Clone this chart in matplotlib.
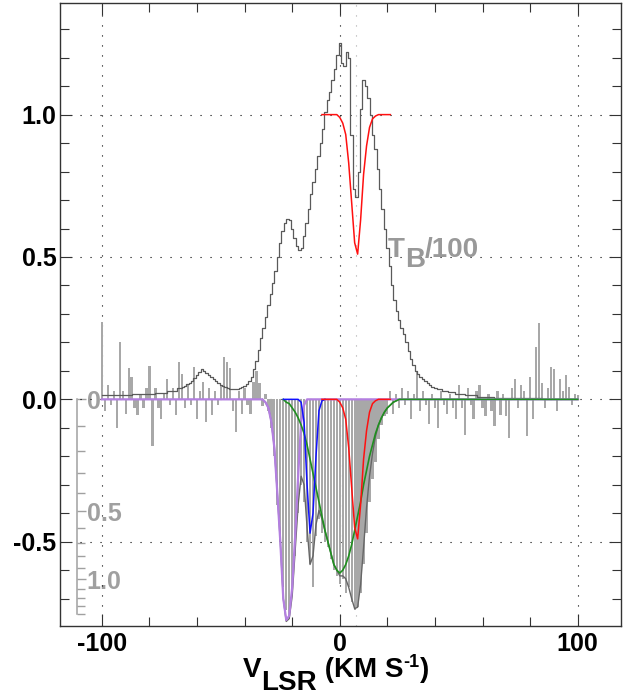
import numpy as np
import matplotlib.pyplot as plt
import matplotlib.ticker as mticker

plt.rcParams['font.family'] = 'Liberation Sans'
plt.rcParams['font.weight'] = 'bold'

# ---------------- data ----------------
# absorption spectrum, one bar per channel (1.25 km/s channels)
chan_v = np.arange(-100, 100.01, 1.25)
absorption = [
    0.27, -0.04, 0.05, -0.02, 0.03, -0.10, 0.20, 0.03,          # -100 .. -91.25
    -0.05, 0.11, 0.08, -0.03, -0.055, 0.02, -0.03, 0.04,        # -90 .. -81.25
    0.117, -0.165, 0.04, -0.03, -0.07, 0.02, 0.07, -0.02,       # -80 .. -71.25
    0.04, -0.055, 0.13, 0.09, -0.03, 0.05, -0.02, 0.115,        # -70 .. -61.25
    -0.07, 0.03, 0.06, -0.08, 0.04, -0.055, 0.03, -0.02,        # -60 .. -51.25
    0.05, 0.15, 0.13, 0.11, -0.04, -0.114, 0.03, -0.05,         # -50 .. -41.25
    0.04, -0.02, -0.05, 0.06, 0.10, 0.058, -0.025, 0.02,        # -40 .. -31.25
    -0.04, -0.10, -0.20, -0.37, -0.50, -0.66, -0.74, -0.76,     # -30 .. -21.25
    -0.68, -0.55, -0.40, -0.30, -0.36, -0.50, -0.58, -0.66,     # -20 .. -11.25
    -0.48, -0.42, -0.47, -0.50, -0.52, -0.56, -0.60, -0.62,     # -10 .. -1.25
    -0.65, -0.63, -0.68, -0.66, -0.71, -0.74, -0.73, -0.68,     # 0 .. 8.75
    -0.58, -0.47, -0.36, -0.28, -0.22, -0.14, -0.09, -0.06,     # 10 .. 18.75
    -0.05, 0.03, -0.05, 0.02, -0.03, 0.04, -0.02, 0.03,         # 20 .. 28.75
    -0.07, 0.02, 0.10, -0.04, 0.03, -0.02, -0.085, 0.02,        # 30 .. 38.75
    -0.03, -0.10, 0.03, -0.02, -0.05, 0.02, -0.03, -0.07,       # 40 .. 48.75
    0.05, -0.03, -0.125, 0.04, -0.02, -0.07, 0.03, 0.05,        # 50 .. 58.75
    -0.03, -0.06, 0.02, -0.04, -0.095, 0.03, -0.055, 0.02,      # 60 .. 68.75
    -0.06, -0.137, 0.04, 0.07, -0.03, 0.05, 0.03, -0.13,        # 70 .. 78.75
    0.077, -0.07, 0.185, 0.267, 0.057, -0.03, 0.04, 0.115,      # 80 .. 88.75
    0.105, -0.04, 0.07, 0.03, 0.085, 0.045, -0.02, 0.02,        # 90 .. 98.75
    0.015,                                                      # 100
]

# emission brightness temperature / 100
em_v = [-100, -95, -90, -85, -80, -75, -70, -67,
        -66, -65, -64, -63, -62, -61, -60, -59, -58, -57, -56, -55, -54, -53,
        -52, -51, -50, -49, -48, -47, -46, -45, -44, -43, -42, -41, -40, -39,
        -38, -37, -36, -35, -34, -33, -32, -31,
        -30, -29, -28, -27, -26, -25, -24, -23, -22, -21, -20, -19, -18, -17,
        -16, -15, -14, -13, -12, -11, -10, -9, -8, -7, -6, -5, -4, -3, -2, -1,
        0, 1, 2, 3, 4, 5, 6, 7, 8, 9, 10, 11, 12, 13, 14, 15, 16, 17, 18, 19,
        20, 21, 22, 23, 24, 25, 26, 27, 28, 29, 30, 31, 32, 33, 34, 35, 36,
        37, 38, 39, 40, 42, 44, 47, 50, 55, 60, 70, 80, 90, 100]
em_tb = [0.015, 0.015, 0.016, 0.018, 0.020, 0.023, 0.030, 0.039,
         0.042, 0.047, 0.053, 0.059, 0.066, 0.075, 0.085, 0.095, 0.105, 0.100,
         0.094, 0.086, 0.078, 0.070, 0.063, 0.056, 0.050, 0.046, 0.042, 0.039,
         0.037, 0.036, 0.035, 0.037, 0.040, 0.044, 0.048, 0.055,
         0.065, 0.080, 0.105, 0.135, 0.175, 0.215, 0.25, 0.29,
         0.33, 0.37, 0.41, 0.45, 0.50, 0.55, 0.59, 0.62, 0.635, 0.63, 0.60,
         0.565, 0.54, 0.525, 0.53, 0.575, 0.62, 0.67, 0.72, 0.765, 0.81, 0.855,
         0.90, 0.95, 1.01, 1.05, 1.08, 1.12, 1.16, 1.21, 1.25, 1.18, 1.17,
         1.22, 1.20, 0.93, 0.74, 0.71, 0.80, 1.02, 1.12, 1.10, 1.06, 1.00,
         0.93, 0.88, 0.81, 0.74, 0.67, 0.60, 0.53, 0.47, 0.40, 0.35, 0.31,
         0.28, 0.25, 0.23, 0.20, 0.17, 0.14, 0.12, 0.10, 0.09, 0.08, 0.072,
         0.065, 0.057, 0.05, 0.045, 0.04, 0.035, 0.03, 0.025, 0.02, 0.015,
         0.01, 0.006, 0.004, 0.002, 0.0]

# gaussian components (as 1 - exp(-tau), drawn negative)
purple_v = [-100, -32.5, -31.25, -30, -28.75, -27.5, -26.25, -25, -23.75, -22.5,
            -21.25, -20, -18.75, -17.5, -16.25, -15, -13.75, 100]
purple_y = [0, 0, -0.01, -0.03, -0.08, -0.17, -0.33, -0.50, -0.70, -0.775,
            -0.76, -0.66, -0.48, -0.27, -0.08, -0.02, 0, 0]

blue_v = [-23.75, -17.5, -16.25, -15, -13.75, -12.5, -11.25, -10, -8.75, -7.5, -6.25]
blue_y = [0, 0, -0.01, -0.08, -0.30, -0.47, -0.40, -0.20, -0.04, -0.005, 0]

red_v = [-7.5, -1.25, 0, 1.25, 2.5, 3.75, 5, 6.25, 7.5, 8.75, 10, 11.25, 12.5,
         13.75, 15, 16.25, 21.25]
red_y = [0, 0, -0.01, -0.03, -0.07, -0.17, -0.31, -0.45, -0.49, -0.37, -0.21,
         -0.11, -0.045, -0.015, -0.005, 0, 0]

green_v = [-23.75, -22.5, -21.25, -20, -18.75, -17.5, -16.25, -15, -13.75, -12.5,
           -11.25, -10, -8.75, -7.5, -6.25, -5, -3.75, -2.5, -1.25, 0, 1.25, 2.5,
           3.75, 5, 6.25, 7.5, 8.75, 10, 11.25, 12.5, 13.75, 15, 16.25, 17.5,
           18.75, 20, 21.25, 22.5, 23.75, 25, 100]
green_y = [0, -0.01, -0.015, -0.03, -0.045, -0.065, -0.09, -0.12, -0.16, -0.21,
           -0.26, -0.31, -0.36, -0.41, -0.46, -0.50, -0.54, -0.58, -0.60, -0.61,
           -0.60, -0.58, -0.55, -0.51, -0.46, -0.41, -0.36, -0.30, -0.25, -0.20,
           -0.16, -0.12, -0.09, -0.065, -0.045, -0.03, -0.02, -0.01, -0.005, 0, 0]

# sum of all components
total_v = [-32.5, -31.25, -30, -28.75, -27.5, -26.25, -25, -23.75, -22.5, -21.25,
           -20, -18.75, -17.5, -16.25, -15, -13.75, -12.5, -11.25, -10, -8.75,
           -7.5, -6.25, -5, -3.75, -2.5, -1.25, 0, 1.25, 2.5, 3.75,
           5, 6.25, 7.5, 8.75, 10, 11.25, 12.5, 13.75, 15, 16.25,
           17.5, 18.75, 20, 21.25, 22.5, 23.75, 25]
total_y = [0, -0.01, -0.03, -0.08, -0.17, -0.33, -0.50, -0.70, -0.78, -0.77,
           -0.69, -0.53, -0.37, -0.27, -0.30, -0.45, -0.58, -0.55, -0.44, -0.39,
           -0.42, -0.46, -0.50, -0.54, -0.58, -0.60, -0.62, -0.62, -0.63, -0.66,
           -0.70, -0.735, -0.73, -0.65, -0.52, -0.38, -0.27, -0.19, -0.13, -0.09,
           -0.065, -0.045, -0.03, -0.02, -0.01, -0.005, 0]

v_mark = 7.0          # light dotted marker line
tau_major = [0, 0.5, 1.0]
tau_minor = [0.1, 0.2, 0.3, 0.4, 0.6, 0.7, 0.8, 0.9, 1.1, 1.2, 1.3, 1.4]

# ---------------- figure ----------------
fig = plt.figure(figsize=(6.32, 6.99), dpi=100)
ax = fig.add_axes([60 / 632, 73 / 699, 561 / 632, 623 / 699])

dots = (0, (1, 8))
ax.grid(True, which='major', color='k', linestyle=dots, linewidth=0.8)
ax.set_axisbelow(True)
ax.axvline(v_mark, color='#aaaaaa', linestyle=dots, linewidth=0.8, zorder=0.6)

ax.bar(chan_v, absorption, width=0.95, color='#a8a8a8', linewidth=0, zorder=1)
ax.plot(total_v, total_y, color='#666666', lw=1.0, zorder=2)
ax.plot(em_v, em_tb, drawstyle='steps-mid', color='#5a5a5a', lw=0.9, zorder=2)

ax.plot(purple_v, purple_y, color='#b37fe0', lw=1.6, zorder=3)
ax.plot(green_v, green_y, color='#1f8f1f', lw=1.2, zorder=3)
ax.plot(blue_v, blue_y, color='#1010ff', lw=1.1, zorder=3)
ax.plot(red_v, red_y, color='#ff1010', lw=1.1, zorder=3)
ax.plot(red_v, np.array(red_y) + 1.0, color='#ff1010', lw=1.1, zorder=3)

ax.set_xlim(-117.6, 118.2)
ax.set_ylim(-0.796, 1.392)
ax.set_xticks([-100, 0, 100], labels=['-100', '0', '100'])
ax.set_yticks([-0.5, 0.0, 0.5, 1.0], labels=['-0.5', '0.0', '0.5', '1.0'])
ax.xaxis.set_minor_locator(mticker.MultipleLocator(20))
ax.yaxis.set_minor_locator(mticker.MultipleLocator(0.1))
ax.tick_params(which='both', direction='in', top=True, right=True,
               width=0.8, color='#333333', labelsize=18)
ax.tick_params(which='major', length=8.5)
ax.tick_params(which='minor', length=6.5)
ax.tick_params(axis='x', pad=4)
ax.tick_params(axis='y', pad=2.5)
for s in ax.spines.values():
    s.set_color('#333333')
    s.set_linewidth(1.0)

# optical depth scale inside the frame
def y_to_tau(y):
    return -np.log(np.clip(1 + np.asarray(y, float), 1e-9, None))

def tau_to_y(t):
    return np.exp(-np.asarray(t, float)) - 1

grey = '#a0a0a0'
secax = ax.secondary_yaxis((77 - 60) / 561, functions=(y_to_tau, tau_to_y))
secax.set_alignment('right')
secax.set_yticks(tau_major, labels=['0', '0.5', '1.0'])
secax.yaxis.set_minor_locator(mticker.FixedLocator(tau_minor))
secax.tick_params(which='both', direction='out', width=1.0, color=grey,
                  labelcolor=grey, labelsize=18, pad=0.5)
secax.tick_params(which='major', length=6.5)
secax.tick_params(which='minor', length=6)
secax.spines['right'].set_bounds(0, 1.4)
secax.spines['right'].set_color(grey)
secax.spines['right'].set_linewidth(1.1)

# T_B/100 label
t1 = ax.text(20.3, 0.50, 'T', fontsize=20, color='#999999', va='baseline', ha='left')
t2 = ax.annotate('B', xy=(1, 0), xycoords=t1, xytext=(0, -7.2),
                 textcoords='offset points', fontsize=20, color='#999999', va='bottom')
ax.annotate('/100', xy=(1, 0), xycoords=t2, xytext=(0, 7.2),
            textcoords='offset points', fontsize=20, color='#999999', va='bottom')

# x axis label  V_LSR (KM S^-1)
x1 = fig.text(243 / 632, 1 - 677 / 699, 'V', fontsize=20, va='baseline', ha='left')
x2 = ax.annotate('LSR', xy=(1, 0), xycoords=x1, xytext=(0, -9.4),
                 textcoords='offset points', fontsize=20, va='bottom')
x3 = ax.annotate(' (KM S', xy=(1, 0), xycoords=x2, xytext=(0, 9.4),
                 textcoords='offset points', fontsize=20, va='bottom')
x4 = ax.annotate('-1', xy=(1, 0), xycoords=x3, xytext=(0, 8.7),
                 textcoords='offset points', fontsize=13, va='bottom')
ax.annotate(')', xy=(1, 0), xycoords=x4, xytext=(0, -8.7),
            textcoords='offset points', fontsize=20, va='bottom')

fig.savefig('out.png', dpi=100)
